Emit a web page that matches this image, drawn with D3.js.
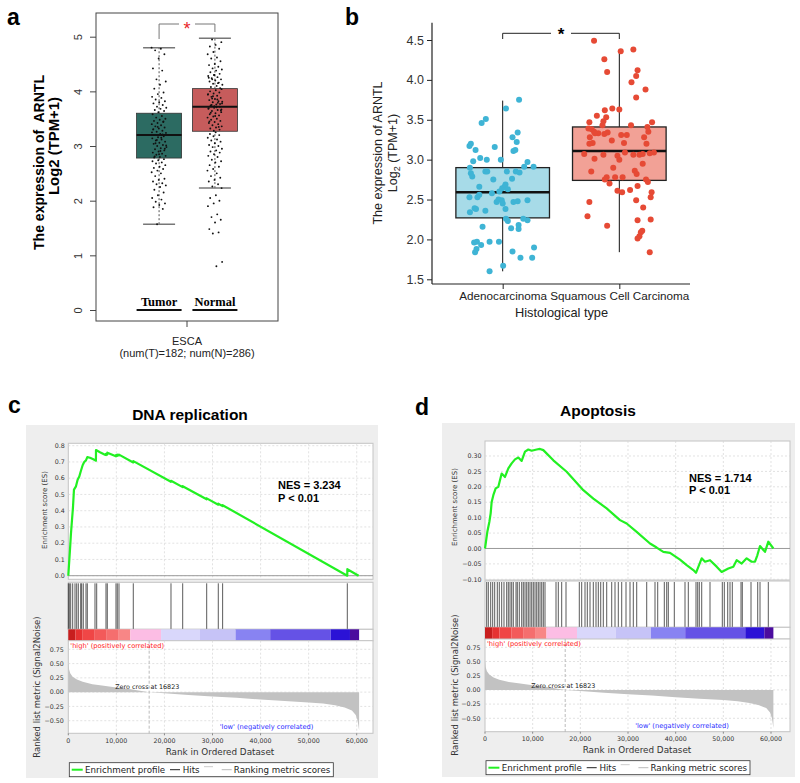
<!DOCTYPE html>
<html>
<head>
<meta charset="utf-8">
<script src="https://cdn.jsdelivr.net/npm/d3@7"></script>
<style>
  body { margin: 0; background: #fff; }
  svg { display: block; }
</style>
</head>
<body>
<div id="chart-area"></div>
<script>
// ---------- panel a data (GEPIA box plot) ----------
const aGroups = ["Tumor", "Normal"]
const aTumorStats = [1.57, 2.78, 3.2, 3.6, 4.8]     // min, q1, median, q3, max
const aNormalStats = [2.23, 3.27, 3.72, 4.05, 4.97]
const aTumorValues = [4.8, 4.78, 4.75, 4.68, 4.6, 4.42, 4.38, 4.22, 4.18, 4.12, 4.05, 3.98, 3.95, 3.9, 3.88, 3.85, 3.82, 3.8, 3.78, 3.75, 3.72, 3.7, 3.68, 3.66, 3.64, 3.62,
  3.58, 3.55, 3.52, 3.5, 3.48, 3.46, 3.44, 3.42, 3.4, 3.38, 3.36, 3.34, 3.32, 3.3, 3.28, 3.26, 3.24, 3.22, 3.2, 3.18, 3.16, 3.14, 3.12, 3.1, 3.08, 3.06, 3.04, 3.02, 3.0,
  2.98, 2.96, 2.94, 2.92, 2.9, 2.88, 2.86, 2.84, 2.82, 2.8, 2.79, 3.45, 3.35, 3.25, 3.15, 3.05, 2.95, 2.85, 3.31, 3.21, 3.11, 3.01, 2.91, 2.81,
  2.76, 2.74, 2.72, 2.7, 2.68, 2.65, 2.62, 2.6, 2.58, 2.55, 2.52, 2.5, 2.45, 2.4, 2.38, 2.35, 2.32, 2.3, 2.28, 2.25, 2.2, 2.15, 2.1, 2.05, 2.02, 1.98, 1.95, 1.92, 1.88, 1.85, 1.57]
const aNormalValues = [4.95, 4.9, 4.85, 4.82, 4.78, 4.72, 4.68, 4.62, 4.6, 4.55, 4.5, 4.48, 4.45, 4.42, 4.4, 4.38, 4.35, 4.32, 4.3, 4.28, 4.26, 4.24, 4.22, 4.2, 4.18, 4.16, 4.14, 4.12, 4.1, 4.08, 4.06, 4.3, 4.25, 4.15, 4.22,
  4.04, 4.02, 4.0, 3.98, 3.96, 3.94, 3.92, 3.9, 3.88, 3.86, 3.84, 3.82, 3.8, 3.78, 3.76, 3.74, 3.72, 3.7, 3.68, 3.66, 3.64, 3.62, 3.6, 3.58, 3.56, 3.54, 3.52, 3.5, 3.48, 3.46, 3.44, 3.42, 3.4, 3.38, 3.36, 3.34, 3.32, 3.3, 3.28,
  3.95, 3.85, 3.75, 3.65, 3.55, 3.45, 3.35, 3.91, 3.81, 3.71, 3.61, 3.77, 3.73, 3.69, 3.79, 3.87, 3.67,
  3.25, 3.22, 3.2, 3.18, 3.15, 3.12, 3.1, 3.08, 3.05, 3.02, 3.0, 2.98, 2.95, 2.92, 2.9, 2.88, 2.85, 2.82, 2.8, 2.75, 2.72, 2.7, 2.65, 2.62, 2.58, 2.55, 2.5, 2.45, 2.42, 2.38, 2.35, 2.3, 2.26, 2.23,
  2.1, 2.05, 2.0, 1.95, 1.9, 1.75, 1.7, 1.65, 1.6, 1.48, 1.42, 1.4, 0.88, 0.8]
const aTicks = [0, 1, 2, 3, 4, 5]

// ---------- panel b data (histological type) ----------
const bGroups = ["Adenocarcinoma", "Squamous Cell Carcinoma"]
const bTicks = [1.5, 2.0, 2.5, 3.0, 3.5, 4.0, 4.5]
const bAdenoStats = [1.6, 2.27, 2.59, 2.9, 3.74]
const bSquamStats = [1.84, 2.74, 3.11, 3.41, 4.36]
// [jitter (fraction of half box width), value]
const bAdenoPoints = [[-0.28, 1.60], [0.01, 1.67], [-0.59, 1.84], [0.21, 1.85], [0.38, 1.77], [0.63, 1.77], [0.67, 1.90], [-0.56, 1.88], [-0.61, 1.96], [-0.55, 1.97],
  [-0.46, 1.93], [-0.28, 1.97], [-0.08, 1.97], [-0.43, 2.16], [0.34, 2.13], [0.34, 2.18], [0.18, 2.14], [0.53, 2.24], [0.07, 2.26], [0.11, 2.23],
  [0.44, 2.26], [-0.70, 2.34], [-0.60, 2.39], [-0.57, 2.38], [-0.37, 2.36], [0.06, 2.38], [0.23, 2.47], [0.32, 2.48], [0.53, 2.49], [-0.13, 2.47],
  [-0.09, 2.50], [-0.02, 2.49], [0.0, 2.45], [-0.71, 2.53], [-0.54, 2.53], [-0.50, 2.56], [-0.23, 2.58], [-0.50, 2.66], [-0.01, 2.64], [0.04, 2.66],
  [0.06, 2.69], [0.11, 2.63], [-0.07, 2.60], [-0.20, 2.75], [0.20, 2.76], [-0.68, 2.83], [-0.65, 2.79], [-0.37, 2.85], [-0.33, 2.85], [0.28, 2.85],
  [0.36, 2.84], [0.09, 2.85], [-0.70, 2.90], [0.46, 2.91], [0.53, 2.97], [0.66, 2.91], [-0.63, 2.98], [-0.48, 3.02], [-0.34, 3.00], [-0.04, 3.00],
  [-0.71, 3.17], [-0.68, 3.20], [-0.58, 3.12], [-0.17, 3.16], [0.23, 3.11], [0.27, 3.12], [0.30, 3.22], [0.21, 3.28], [0.32, 3.34], [-0.45, 3.46],
  [-0.36, 3.51], [0.07, 3.64], [0.35, 3.75]]
const bSquamPoints = [[-0.54, 4.49], [-0.32, 4.26], [0.03, 4.36], [0.30, 4.38], [-0.26, 4.10], [0.39, 4.12], [0.36, 4.05], [0.26, 3.97], [0.56, 3.88], [0.36, 3.78],
  [-0.31, 3.62], [-0.15, 3.64], [0.0, 3.63], [-0.48, 3.55], [-0.28, 3.53], [-0.34, 3.48], [-0.64, 3.47], [0.70, 3.47], [-0.36, 3.43], [0.25, 3.43],
  [0.60, 3.41], [-0.66, 3.39], [-0.59, 3.38], [-0.54, 3.35], [-0.45, 3.33], [-0.32, 3.32], [-0.25, 3.34], [-0.52, 3.33], [0.04, 3.31], [0.16, 3.31],
  [0.62, 3.35], [-0.63, 3.28], [0.53, 3.28], [-0.57, 3.21], [-0.64, 3.20], [-0.16, 3.24], [0.10, 3.21], [0.58, 3.20], [-0.75, 3.07], [-0.34, 3.06],
  [-0.04, 3.05], [0.12, 3.09], [0.30, 3.06], [0.43, 3.06], [0.50, 3.07], [0.65, 3.08], [0.74, 3.09], [-0.53, 3.01], [0.0, 3.00], [0.50, 2.95],
  [-0.13, 2.90], [-0.60, 2.85], [0.33, 2.86], [0.37, 2.82], [0.07, 2.78], [-0.27, 2.78], [-0.09, 2.78], [-0.31, 2.75], [0.57, 2.75], [0.61, 2.72],
  [-0.21, 2.70], [0.39, 2.67], [0.23, 2.62], [-0.04, 2.61], [0.06, 2.59], [0.69, 2.59], [0.67, 2.53], [0.36, 2.49], [-0.64, 2.47], [0.51, 2.40],
  [-0.68, 2.29], [0.39, 2.24], [0.67, 2.25], [-0.26, 2.17], [0.49, 2.11], [0.46, 2.09], [0.43, 2.04], [0.39, 2.01], [0.65, 1.84]]

// ---------- GSEA data (panels c, d) ----------
const rankTicks = [0, 10000, 20000, 30000, 40000, 50000, 60000]
const rankEnd = 60500
const zeroCross = 16823
// ranked list metric (rank, Signal2Noise)
const rankedMetric = [[0, 0.52], [150, 0.40], [400, 0.33], [900, 0.27], [1800, 0.22], [3000, 0.18], [5000, 0.14], [7000, 0.115], [10000, 0.08],
  [13000, 0.05], [16823, 0], [20000, -0.02], [25000, -0.05], [30000, -0.075], [35000, -0.10], [40000, -0.13], [45000, -0.155],
  [50000, -0.18], [53000, -0.20], [55500, -0.23], [57500, -0.27], [59000, -0.32], [59800, -0.40], [60200, -0.50], [60500, -0.67]]
const colorBarStarts = [0, 1500, 3000, 5500, 8000, 10500, 12900, 19300, 27400, 34800, 42000, 54600, 58600]
const colorBarColors = ["#c81e1e", "#e63232", "#f04646", "#f35a5a", "#f56e6e", "#f88686", "#fcbde4", "#d9d7fb", "#c6c3f7", "#8883f2", "#6552e6", "#2b12d6", "#4b0c9e"]

const dnaTicks = [0.0, 0.1, 0.2, 0.3, 0.4, 0.5, 0.6, 0.7, 0.8]
const dnaES = [[0, 0], [208, 0.096], [347, 0.158], [555, 0.26], [763, 0.34], [971, 0.42], [1179, 0.53], [1595, 0.55], [1942, 0.59], [2289, 0.61],
  [2566, 0.64], [2982, 0.68], [3307, 0.70], [3675, 0.71], [3953, 0.73], [4508, 0.726], [5201, 0.716], [5750, 0.708], [5760, 0.773], [6588, 0.76],
  [7630, 0.745], [7845, 0.742], [7850, 0.75], [8100, 0.746], [8120, 0.757], [9900, 0.735], [9925, 0.742], [10180, 0.738], [10195, 0.745],
  [10540, 0.740], [10550, 0.745], [13510, 0.697], [13530, 0.705], [21350, 0.578], [21370, 0.584], [23790, 0.545], [23800, 0.551],
  [28780, 0.470], [28800, 0.476], [31200, 0.437], [31210, 0.443], [32100, 0.428], [32110, 0.434], [58040, 0.0], [58050, 0.04], [60400, 0.0]]
const dnaHits = [0, 208, 499, 915, 1394, 1747, 2080, 2580, 2788, 3120, 3682, 3953, 5554, 5908, 7843, 8113, 9923, 10193, 10547, 13522,
  21365, 23799, 28791, 31204, 32108, 58044]

const apoTicks = [-0.10, -0.05, 0.00, 0.05, 0.10, 0.15, 0.20, 0.25, 0.30]
const apoES = [[0, 0], [490, 0.054], [909, 0.086], [1189, 0.114], [1399, 0.151], [1748, 0.173], [2238, 0.195], [2797, 0.2], [3497, 0.243],
  [4196, 0.232], [4895, 0.26], [5594, 0.276], [6294, 0.289], [6993, 0.295], [7692, 0.284], [8392, 0.314], [9091, 0.321], [9790, 0.317],
  [10839, 0.321], [11538, 0.323], [12238, 0.319], [14336, 0.286], [17133, 0.249], [20629, 0.189], [22727, 0.162], [25524, 0.13],
  [28322, 0.092], [29720, 0.081], [31818, 0.054], [34615, 0.016], [36014, 0.003], [37413, -0.011], [38811, -0.014], [40909, -0.036],
  [42308, -0.054], [43706, -0.07], [44266, -0.079], [45455, -0.032], [46154, -0.043], [47203, -0.038], [48601, -0.059], [49650, -0.076],
  [51049, -0.065], [52098, -0.059], [52797, -0.038], [53846, -0.049], [54895, -0.032], [55944, -0.043], [56643, -0.043], [57133, -0.022],
  [57692, 0.008], [58741, -0.011], [59441, 0.022], [60500, 0.0]]
const apoHits = [357, 692, 1196, 1615, 2035, 2580, 3000, 3504, 3986, 4553, 4888, 5245, 5602, 5937, 6504, 6777, 7196, 7700, 8035, 8392,
  8749, 9084, 9441, 9798, 10133, 10490, 10847, 11182, 11539, 11896, 12231, 12588, 14896, 15378, 16091, 16994, 19784, 20287, 20980,
  21462, 22029, 22721, 23288, 23770, 24274, 24819, 25533, 26582, 27274, 27966, 28680, 29582, 30421, 31113, 31827, 33925, 35666,
  36232, 37617, 38120, 38456, 39715, 41960, 42652, 44267, 44624, 44960, 45463, 47205, 49785, 50205, 50918, 51401, 51883, 53708,
  53981, 55807, 57213, 57695, 59436]
const metricTicks = [-0.5, -0.25, 0, 0.25, 0.5, 0.75]

// ---------- svg ----------
const svg = d3.select("#chart-area").append("svg")
  .attr("width", 800)
  .attr("height", 783)
  .style("font-family", "Arial, 'Liberation Sans', sans-serif")

const label = (x, y, t) => svg.append("text").attr("x", x).attr("y", y)
  .style("font-size", "23px").style("font-weight", "bold").text(t)
label(7, 25, "a")
label(345, 25, "b")
label(8, 413, "c")
label(415, 415, "d")

// ================= Panel a =================
const aY = d3.scaleLinear().domain([0, 5]).range([310, 36.7])
const aX = d3.scalePoint().domain(aGroups).range([96, 278]).padding(1.13)
const aStats = [aTumorStats, aNormalStats]
const aValues = [aTumorValues, aNormalValues]
const aColors = ["#2c6b62", "#c65c5c"]
const ga = svg.append("g")

ga.append("rect").attr("x", 96).attr("y", 13).attr("width", 182).attr("height", 308)
  .attr("fill", "none").attr("stroke", "#444").attr("stroke-width", 1)

const aAxis = ga.append("g").attr("transform", "translate(96,0)")
  .call(d3.axisLeft(aY).tickValues(aTicks).tickSize(6).tickFormat(d3.format("d")))
aAxis.select(".domain").remove()
aAxis.selectAll("line").attr("stroke", "#444")
aAxis.selectAll("text")
  .attr("transform", "rotate(-90)")
  .attr("x", 0).attr("y", -14).attr("dy", 0)
  .attr("text-anchor", "middle")
  .style("font-size", "11px").attr("fill", "#333")

aGroups.forEach((grp, i) => {
  const s = aStats[i]
  const cx = aX(grp)
  // whiskers
  ga.append("line").attr("x1", cx).attr("x2", cx).attr("y1", aY(s[0])).attr("y2", aY(s[1]))
    .attr("stroke", "#555").attr("stroke-dasharray", "2,2")
  ga.append("line").attr("x1", cx).attr("x2", cx).attr("y1", aY(s[3])).attr("y2", aY(s[4]))
    .attr("stroke", "#555").attr("stroke-dasharray", "2,2")
  ;[s[0], s[4]].forEach(v => {
    ga.append("line").attr("x1", cx - 16).attr("x2", cx + 16).attr("y1", aY(v)).attr("y2", aY(v))
      .attr("stroke", "#777").attr("stroke-width", 1.5)
  })
  ga.append("rect").attr("x", cx - 22.5).attr("width", 45)
    .attr("y", aY(s[3])).attr("height", aY(s[1]) - aY(s[3]))
    .attr("fill", aColors[i]).attr("stroke", "#333").attr("stroke-width", 0.8)
  ga.append("line").attr("x1", cx - 22.5).attr("x2", cx + 22.5).attr("y1", aY(s[2])).attr("y2", aY(s[2]))
    .attr("stroke", "#111").attr("stroke-width", 2)
  // jittered points: spread evenly with a golden-ratio sequence
  ga.selectAll(null).data(aValues[i]).enter().append("circle")
    .attr("cx", (d, j) => cx + (((j * 0.618034 + i * 0.31) % 1) * 2 - 1) * 7.5)
    .attr("cy", d => aY(d))
    .attr("r", 0.95)
    .attr("fill", "#111")
  // group label with bar
  ga.append("text").attr("x", cx).attr("y", 306).attr("text-anchor", "middle")
    .style("font-family", "'Liberation Serif', 'Times New Roman', serif")
    .style("font-size", "12.5px").style("font-weight", "bold").text(grp)
  ga.append("line").attr("x1", cx - 22.5).attr("x2", cx + 22.5).attr("y1", 310).attr("y2", 310)
    .attr("stroke", "#111").attr("stroke-width", 2)
})

// significance bracket
const aL = aX("Tumor"), aR = aX("Normal"), aM = (aL + aR) / 2
ga.append("path").attr("d", `M${aL},39 V24 H${aM - 8} M${aM + 8},24 H${aR} V32`)
  .attr("fill", "none").attr("stroke", "#777").attr("stroke-width", 1)
ga.append("text").attr("x", aM).attr("y", 35).attr("text-anchor", "middle")
  .style("font-size", "18px").attr("fill", "#e8262b").text("*")

// x label
ga.append("line").attr("x1", 187).attr("x2", 187).attr("y1", 321).attr("y2", 327).attr("stroke", "#444")
ga.append("text").attr("x", 187).attr("y", 345).attr("text-anchor", "middle").style("font-size", "11px").attr("fill", "#222").text("ESCA")
ga.append("text").attr("x", 187).attr("y", 357).attr("text-anchor", "middle").style("font-size", "11px").attr("fill", "#222")
  .text("(num(T)=182; num(N)=286)")

// y title
ga.append("text").attr("transform", "translate(43.5,162.5) rotate(-90)").attr("text-anchor", "middle")
  .attr("textLength", 175).attr("lengthAdjust", "spacingAndGlyphs")
  .style("font-size", "14.5px").style("font-weight", "bold").style("white-space", "pre")
  .text("The expression of  ARNTL")
ga.append("text").attr("transform", "translate(58.5,146) rotate(-90)").attr("text-anchor", "middle")
  .attr("textLength", 98).attr("lengthAdjust", "spacingAndGlyphs")
  .style("font-size", "14.5px").style("font-weight", "bold").text("Log2 (TPM+1)")

// ================= Panel b =================
const bY = d3.scaleLinear().domain([1.5, 4.5]).range([279.3, 40])
const bX = d3.scalePoint().domain(bGroups).range([432, 690]).padding(0.606)
const bStats = [bAdenoStats, bSquamStats]
const bPoints = [bAdenoPoints, bSquamPoints]
const bFill = ["#a7dbe8", "#f2a196"]
const bDot = ["#3fb4d5", "#e64a35"]
const bHalf = 46.8
const gb = svg.append("g")

gb.append("line").attr("x1", 432).attr("x2", 432).attr("y1", 22.7).attr("y2", 284).attr("stroke", "#222").attr("stroke-width", 1.2)
gb.append("line").attr("x1", 432).attr("x2", 690).attr("y1", 284).attr("y2", 284).attr("stroke", "#222").attr("stroke-width", 1.2)

const bAxisY = gb.append("g").attr("transform", "translate(432,0)")
  .call(d3.axisLeft(bY).tickValues(bTicks).tickSize(5).tickFormat(d3.format(".1f")))
bAxisY.select(".domain").remove()
bAxisY.selectAll("line").attr("stroke", "#222")
bAxisY.selectAll("text").style("font-size", "12.5px").attr("fill", "#333").attr("x", -8)

const bAxisX = gb.append("g").attr("transform", "translate(0,284)")
  .call(d3.axisBottom(bX).tickSize(5))
bAxisX.select(".domain").remove()
bAxisX.selectAll("line").attr("stroke", "#222")
bAxisX.selectAll("text").style("font-size", "11.7px").attr("fill", "#222").attr("y", 8)

bGroups.forEach((grp, i) => {
  const s = bStats[i]
  const cx = bX(grp)
  gb.append("line").attr("x1", cx).attr("x2", cx).attr("y1", bY(s[0])).attr("y2", bY(s[4]))
    .attr("stroke", "#111").attr("stroke-width", 1)
  gb.append("rect").attr("x", cx - bHalf).attr("width", bHalf * 2)
    .attr("y", bY(s[3])).attr("height", bY(s[1]) - bY(s[3]))
    .attr("fill", bFill[i]).attr("stroke", "#222").attr("stroke-width", 1.3)
  gb.append("line").attr("x1", cx - bHalf).attr("x2", cx + bHalf).attr("y1", bY(s[2])).attr("y2", bY(s[2]))
    .attr("stroke", "#111").attr("stroke-width", 2.5)
  gb.selectAll(null).data(bPoints[i]).enter().append("circle")
    .attr("cx", d => cx + d[0] * bHalf)
    .attr("cy", d => bY(d[1]))
    .attr("r", 3)
    .attr("fill", bDot[i])
})

const bL = bX(bGroups[0]), bR = bX(bGroups[1]), bM = (bL + bR) / 2
gb.append("path").attr("d", `M${bL},39 V33.3 H${bM - 10} M${bM + 10},33.3 H${bR} V39`)
  .attr("fill", "none").attr("stroke", "#222").attr("stroke-width", 1)
gb.append("text").attr("x", bM).attr("y", 40).attr("text-anchor", "middle")
  .style("font-size", "17px").style("font-weight", "bold").text("*")

gb.append("text").attr("x", 561.5).attr("y", 316.7).attr("text-anchor", "middle")
  .style("font-size", "12.8px").attr("fill", "#222").text("Histological type")
gb.append("text").attr("transform", "translate(381.5,153) rotate(-90)").attr("text-anchor", "middle")
  .style("font-size", "12.5px").attr("fill", "#222").text("The expression of ARNTL")
const bT2 = gb.append("text").attr("transform", "translate(397,153) rotate(-90)").attr("text-anchor", "middle")
  .style("font-size", "12.5px").attr("fill", "#222")
bT2.append("tspan").text("Log")
bT2.append("tspan").attr("dy", 3).style("font-size", "9px").text("2")
bT2.append("tspan").attr("dy", -3).text(" (TPM+1)")

// ================= GSEA panels =================
function drawGsea(o) {
  const g = svg.append("g").style("font-family", "'DejaVu Sans', sans-serif")
  const x = d3.scaleLinear().domain([0, 60000]).range([o.x0, o.x60])
  const L = o.x0, R = o.right
  const fmt = d3.format(",")

  g.append("rect").attr("x", o.bg[0]).attr("y", o.bg[1]).attr("width", o.bg[2]).attr("height", o.bg[3]).attr("fill", "#eeeeee")

  g.append("text").attr("x", o.titleX).attr("y", o.titleY).attr("text-anchor", "middle")
    .style("font-family", "Arial, 'Liberation Sans', sans-serif")
    .style("font-size", "15.5px").style("font-weight", "bold").text(o.title)

  // --- enrichment score plot ---
  const yEs = d3.scaleLinear().domain(o.esDomain).range(o.esRange)
  g.append("rect").attr("x", L).attr("y", o.esTop).attr("width", R - L).attr("height", o.esBottom - o.esTop)
    .attr("fill", "#fff").attr("stroke", "#c4c4c4")
  g.selectAll(null).data(rankTicks.slice(1)).enter().append("line")
    .attr("x1", d => x(d)).attr("x2", d => x(d)).attr("y1", o.esTop).attr("y2", o.esBottom)
    .attr("stroke", "#d6d6d6").attr("stroke-dasharray", "2,2").attr("stroke-width", 0.7)
  g.selectAll(null).data(o.esTicks).enter().append("line")
    .attr("x1", L).attr("x2", R).attr("y1", d => yEs(d)).attr("y2", d => yEs(d))
    .attr("stroke", "#d6d6d6").attr("stroke-dasharray", "2,2").attr("stroke-width", 0.7)
  g.append("line").attr("x1", L).attr("x2", R).attr("y1", yEs(0)).attr("y2", yEs(0))
    .attr("stroke", "#9a9a9a").attr("stroke-width", 1)
  g.selectAll(null).data(o.esTicks).enter().append("text")
    .attr("x", L - 3.5).attr("y", d => yEs(d)).attr("dy", "0.35em").attr("text-anchor", "end")
    .style("font-size", "6.3px").attr("fill", "#333").text(d => d3.format(o.esFmt)(d))
  g.append("path").datum(o.es)
    .attr("fill", "none").attr("stroke", "#22f022").attr("stroke-width", 2.2).attr("stroke-linejoin", "round")
    .attr("d", d3.line().x(d => x(d[0])).y(d => yEs(d[1])))
  g.append("text").attr("transform", `translate(${o.esLabelX},${o.esLabelY}) rotate(-90)`).attr("text-anchor", "middle")
    .style("font-size", "7px").attr("fill", "#333").text("Enrichment score (ES)")
  g.append("text").attr("x", o.nesX).attr("y", o.nesY).style("font-family", "Arial, 'Liberation Sans', sans-serif")
    .style("font-size", "11px").style("font-weight", "bold").text(o.nes)
  g.append("text").attr("x", o.nesX).attr("y", o.nesY + 12.5).style("font-family", "Arial, 'Liberation Sans', sans-serif")
    .style("font-size", "11px").style("font-weight", "bold").text("P < 0.01")

  // --- hits ---
  g.append("rect").attr("x", L).attr("y", o.hitsTop).attr("width", R - L).attr("height", o.barTop - o.hitsTop)
    .attr("fill", "#fff").attr("stroke", "#c4c4c4")
  g.selectAll(null).data(o.hits).enter().append("line")
    .attr("x1", d => x(d)).attr("x2", d => x(d)).attr("y1", o.hitsTop + 1).attr("y2", o.barTop)
    .attr("stroke", "#000").attr("stroke-width", 0.9).attr("stroke-opacity", 0.72)

  // --- color bar ---
  g.append("rect").attr("x", L).attr("y", o.barTop).attr("width", R - L).attr("height", o.barBottom - o.barTop)
    .attr("fill", "#fff").attr("stroke", "#c4c4c4")
  g.selectAll(null).data(colorBarStarts).enter().append("rect")
    .attr("x", d => x(d))
    .attr("width", (d, i) => x(i + 1 < colorBarStarts.length ? colorBarStarts[i + 1] : rankEnd) - x(d))
    .attr("y", o.barTop).attr("height", o.barBottom - o.barTop)
    .attr("fill", (d, i) => colorBarColors[i])

  // --- ranked list metric ---
  const yM = d3.scaleLinear().domain([-0.5, 0.75]).range(o.mRange)
  g.append("rect").attr("x", L).attr("y", o.barBottom).attr("width", R - L).attr("height", o.mBottom - o.barBottom)
    .attr("fill", "#fff").attr("stroke", "#c4c4c4")
  g.selectAll(null).data(rankTicks.slice(1)).enter().append("line")
    .attr("x1", d => x(d)).attr("x2", d => x(d)).attr("y1", o.barBottom).attr("y2", o.mBottom)
    .attr("stroke", "#d6d6d6").attr("stroke-dasharray", "2,2").attr("stroke-width", 0.7)
  g.selectAll(null).data(metricTicks).enter().append("line")
    .attr("x1", L).attr("x2", R).attr("y1", d => yM(d)).attr("y2", d => yM(d))
    .attr("stroke", "#d6d6d6").attr("stroke-dasharray", "2,2").attr("stroke-width", 0.7)
  g.append("path").datum(rankedMetric)
    .attr("fill", "#c2c2c2")
    .attr("d", d3.area().x(d => x(d[0])).y0(yM(0)).y1(d => yM(d[1])))
  g.append("line").attr("x1", x(zeroCross)).attr("x2", x(zeroCross)).attr("y1", o.barBottom).attr("y2", o.mBottom)
    .attr("stroke", "#aaa").attr("stroke-dasharray", "3,2").attr("stroke-width", 0.8)
  g.selectAll(null).data(metricTicks).enter().append("text")
    .attr("x", L - 4.5).attr("y", d => yM(d)).attr("dy", "0.35em").attr("text-anchor", "end")
    .style("font-size", "6.3px").attr("fill", "#333").text(d => d3.format(".2f")(d))
  g.selectAll(null).data(rankTicks).enter().append("text")
    .attr("x", d => x(d)).attr("y", o.mBottom + 9.5).attr("text-anchor", "middle")
    .style("font-size", "6.3px").attr("fill", "#333").text(d => fmt(d))
  g.selectAll(null).data(rankTicks).enter().append("line")
    .attr("x1", d => x(d)).attr("x2", d => x(d)).attr("y1", o.mBottom).attr("y2", o.mBottom + 2)
    .attr("stroke", "#888")
  g.append("text").attr("x", L + 2).attr("y", o.highY).style("font-size", "6.7px").attr("fill", "#ff1a1a")
    .text("'high' (positively correlated)")
  g.append("text").attr("x", x(zeroCross) - 34).attr("y", o.zeroY).style("font-size", "6.4px").attr("fill", "#222")
    .text("Zero cross at " + zeroCross)
  g.append("text").attr("x", x(31500)).attr("y", o.lowY).style("font-size", "6.7px").attr("fill", "#2b2bff")
    .text("'low' (negatively correlated)")
  g.append("text").attr("x", o.rankTitleX).attr("y", o.mBottom + 21.5).attr("text-anchor", "middle")
    .style("font-size", "8.8px").attr("fill", "#333").text("Rank in Ordered Dataset")
  g.append("text").attr("transform", `translate(${o.mLabelX},${o.mLabelY}) rotate(-90)`).attr("text-anchor", "middle")
    .style("font-size", "8.5px").attr("fill", "#333").text("Ranked list metric (Signal2Noise)")

  // --- legend ---
  const lx = o.legend[0], ly = o.legend[1], my = ly + 7
  g.append("rect").attr("x", lx).attr("y", ly).attr("width", 264).attr("height", 14)
    .attr("fill", "#fff").attr("stroke", "#333").attr("stroke-width", 0.8)
  g.append("line").attr("x1", lx + 2.4).attr("x2", lx + 13.4).attr("y1", my).attr("y2", my).attr("stroke", "#22f022").attr("stroke-width", 2)
  g.append("text").attr("x", lx + 15.7).attr("y", my + 3).style("font-size", "8.7px").attr("fill", "#222").text("Enrichment profile")
  g.append("line").attr("x1", lx + 100.7).attr("x2", lx + 110.7).attr("y1", my).attr("y2", my).attr("stroke", "#222").attr("stroke-width", 1)
  g.append("text").attr("x", lx + 113.4).attr("y", my + 3).style("font-size", "8.7px").attr("fill", "#222").text("Hits")
  g.append("line").attr("x1", lx + 134.7).attr("x2", lx + 143.7).attr("y1", my - 3).attr("y2", my - 3).attr("stroke", "#ccc").attr("stroke-width", 1)
  g.append("line").attr("x1", lx + 152.4).attr("x2", lx + 162.4).attr("y1", my).attr("y2", my).attr("stroke", "#bbb").attr("stroke-width", 1)
  g.append("text").attr("x", lx + 164.5).attr("y", my + 3).style("font-size", "8.7px").attr("fill", "#222").text("Ranking metric scores")
}

drawGsea({
  title: "DNA replication", titleX: 190, titleY: 420,
  bg: [26, 425, 352, 353],
  x0: 68.3, x60: 356.7, right: 373,
  esTop: 443.3, esBottom: 579.3, esDomain: [0, 0.8], esRange: [575.7, 445.7], esTicks: dnaTicks, esFmt: ".1f",
  es: dnaES, esLabelX: 46.5, esLabelY: 510, nes: "NES = 3.234", nesX: 278, nesY: 489,
  hits: dnaHits, hitsTop: 582.3, barTop: 629.3, barBottom: 640.7,
  mRange: [720.7, 649.3], mBottom: 733.3,
  highY: 647.5, zeroY: 689.3, lowY: 729.3,
  rankTitleX: 220, mLabelX: 40, mLabelY: 687,
  legend: [69.3, 762.7]
})

drawGsea({
  title: "Apoptosis", titleX: 598, titleY: 416,
  bg: [442, 423, 353, 354],
  x0: 485, x60: 771, right: 790,
  esTop: 441, esBottom: 580, esDomain: [-0.1, 0.3], esRange: [579.3, 456], esTicks: apoTicks, esFmt: ".2f",
  es: apoES, esLabelX: 456.5, esLabelY: 507, nes: "NES = 1.714", nesX: 689, nesY: 481.7,
  hits: apoHits, hitsTop: 581, barTop: 627.3, barBottom: 639,
  mRange: [718.3, 647.3], mBottom: 731.7,
  highY: 645.5, zeroY: 687.7, lowY: 727.7,
  rankTitleX: 637, mLabelX: 458, mLabelY: 685,
  legend: [486, 760.7]
})
</script>
</body>
</html>
